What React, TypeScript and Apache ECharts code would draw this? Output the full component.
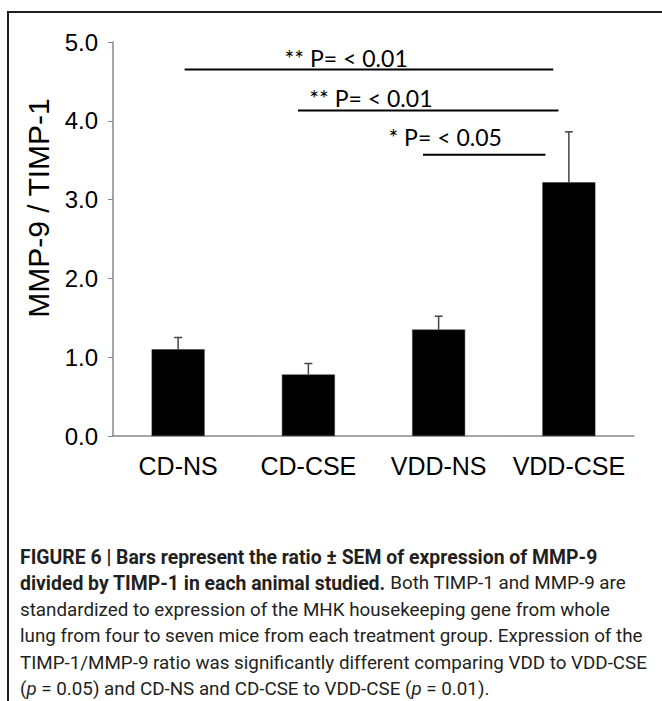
import React, { useEffect, useRef } from "react";
import * as echarts from "echarts";

const categories = ["CD-NS", "CD-CSE", "VDD-NS", "VDD-CSE"];
const ratio = [1.1, 0.78, 1.35, 3.22];
const sem = [0.15, 0.14, 0.17, 0.64];
const yTicks = [0, 1, 2, 3, 4, 5];

// significance brackets (category-index units / y values)
const sigStart = [0.05, 0.92, 1.88];
const sigEnd = [2.88, 2.92, 2.82];
const sigLevel = [4.65, 4.13, 3.57];
const sigLabels = ["** P= < 0.01", "** P= < 0.01", "* P= < 0.05"];
const sigLabelX = [1.29, 1.48, 2.05];
const sigLabelY = [4.8, 4.29, 3.79];

const captionLines = [
  "{b|FIGURE 6 | Bars represent the ratio ± SEM of expression of MMP-9}",
  "{b|divided by TIMP-1 in each animal studied.} Both TIMP-1 and MMP-9 are",
  "standardized to expression of the MHK housekeeping gene from whole",
  "lung from four to seven mice from each treatment group. Expression of the",
  "TIMP-1/MMP-9 ratio was significantly different comparing VDD to VDD-CSE",
  "({i|p} = 0.05) and CD-NS and CD-CSE to VDD-CSE ({i|p} = 0.01).",
];

export default function App() {
  const ref = useRef<HTMLDivElement>(null);
  useEffect(() => {
    if (!ref.current) return;
    const chart = echarts.init(ref.current, undefined, { renderer: "svg" });
    const frameColor = "#231f20";
    const capFont = "Roboto, 'Liberation Sans', Arial, sans-serif";
    const capSize = 18.8;
    const graphic: any[] = [
      { type: "line", shape: { x1: 7, y1: 12, x2: 662, y2: 12 }, style: { stroke: frameColor, lineWidth: 2 } },
      { type: "line", shape: { x1: 8, y1: 11, x2: 8, y2: 701 }, style: { stroke: frameColor, lineWidth: 2 } },
      {
        type: "text",
        x: 38,
        y: 208,
        rotation: Math.PI / 2,
        style: {
          text: "MMP-9 / TIMP-1",
          font: "30px 'Liberation Sans', Arial, sans-serif",
          fill: "#000",
          align: "center",
          verticalAlign: "middle",
        },
      },
    ];
    captionLines.forEach((line, i) => {
      graphic.push({
        type: "text",
        x: 20,
        y: 557 + i * 26.4,
        style: {
          text: line,
          fontFamily: capFont,
          fontSize: capSize,
          fill: "#231f20",
          verticalAlign: "middle",
          rich: {
            b: { fontFamily: capFont, fontSize: 19.4, fontWeight: "bold", fill: "#231f20" },
            i: { fontFamily: capFont, fontSize: capSize, fontStyle: "italic", fill: "#231f20" },
          },
        },
      });
    });

    chart.setOption({
      animation: false,
      backgroundColor: "#fff",
      grid: { left: 113, top: 42, right: 28, bottom: 265, containLabel: false },
      xAxis: [
        {
          type: "category",
          data: categories,
          axisLine: { lineStyle: { color: "#888", width: 1.5 } },
          axisTick: { show: false },
          axisLabel: {
            interval: 0,
            color: "#000",
            fontSize: 25,
            fontFamily: "'Liberation Sans', Arial, sans-serif",
            margin: 17,
          },
        },
        { type: "value", min: -0.5, max: 3.5, show: false },
      ],
      yAxis: {
        type: "value",
        min: 0,
        max: 5,
        interval: 1,
        splitLine: { show: false },
        axisLine: { show: true, onZero: false, lineStyle: { color: "#888", width: 1.5 } },
        axisTick: { show: true, inside: false, length: 5, lineStyle: { color: "#888" } },
        axisLabel: {
          color: "#000",
          fontSize: 24,
          fontFamily: "'Liberation Sans', Arial, sans-serif",
          margin: 15,
          formatter: (v: number) => (yTicks.includes(v) ? v.toFixed(1) : ""),
        },
      },
      graphic,
      series: [
        {
          type: "bar",
          data: ratio,
          barWidth: 53,
          itemStyle: { color: "#000", borderColor: "#333", borderWidth: 0.5 },
        },
        {
          type: "custom",
          data: categories.map((_, i) => [i, ratio[i], sem[i]]),
          renderItem: (params: any, api: any) => {
            const x = api.value(0);
            const top = api.coord([x, api.value(1)]);
            const end = api.coord([x, api.value(1) + api.value(2)]);
            const st = { stroke: "#444", lineWidth: 1.5 };
            return {
              type: "group",
              children: [
                { type: "line", shape: { x1: top[0], y1: top[1], x2: end[0], y2: end[1] }, style: st },
                { type: "line", shape: { x1: end[0] - 4, y1: end[1], x2: end[0] + 4, y2: end[1] }, style: st },
              ],
            };
          },
          z: 3,
        },
        {
          type: "custom",
          xAxisIndex: 1,
          data: sigStart.map((s, i) => [s, sigEnd[i], sigLevel[i], sigLabelX[i], sigLabelY[i]]),
          renderItem: (params: any, api: any) => {
            const a = api.coord([api.value(0), api.value(2)]);
            const b = api.coord([api.value(1), api.value(2)]);
            const t = api.coord([api.value(3), api.value(4)]);
            return {
              type: "group",
              children: [
                { type: "line", shape: { x1: a[0], y1: a[1], x2: b[0], y2: b[1] }, style: { stroke: "#000", lineWidth: 2 } },
                {
                  type: "text",
                  x: t[0],
                  y: t[1],
                  style: {
                    text: sigLabels[params.dataIndex],
                    font: "23px Lato, 'Open Sans', sans-serif",
                    fill: "#000",
                    align: "center",
                    verticalAlign: "middle",
                  },
                },
              ],
            };
          },
          z: 4,
        },
      ],
    });
    return () => chart.dispose();
  }, []);
  return (
    <div
      ref={ref}
      style={{ position: "fixed", left: 0, top: 0, width: 662, height: 701, background: "#fff" }}
    />
  );
}
